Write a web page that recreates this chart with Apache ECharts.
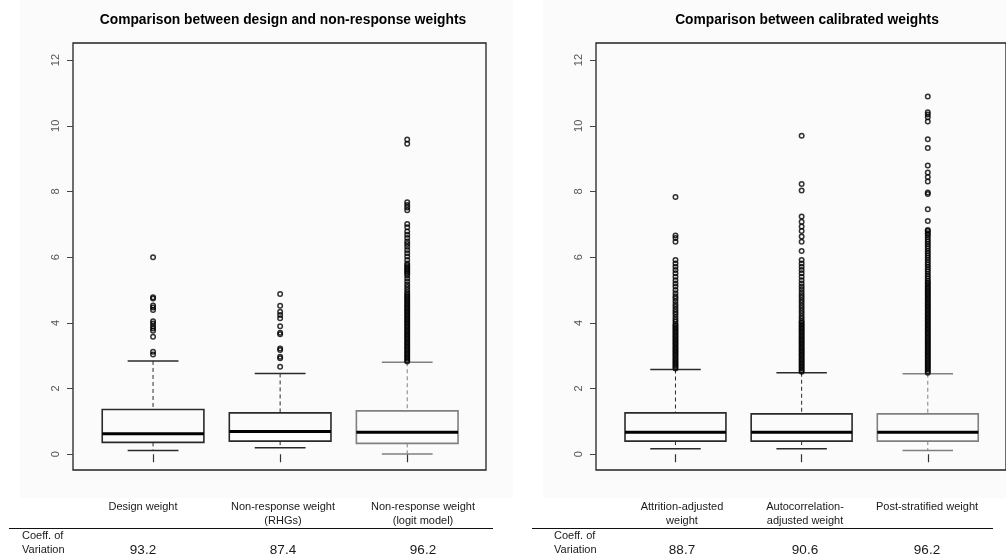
<!DOCTYPE html>
<html>
<head>
<meta charset="utf-8">
<script src="https://cdn.jsdelivr.net/npm/echarts@6/dist/echarts.min.js"></script>
<style>
  html, body { margin: 0; padding: 0; background: #fff; }
  #chart { width: 1006px; height: 558px; }
</style>
</head>
<body>
<div id="chart"></div>
<script>
// 标题
const panelTitles = ['Comparison between design and non-response weights', 'Comparison between calibrated weights'];

// 表头（每列可能两行）
const leftLabels = [['Design weight'], ['Non-response weight', '(RHGs)'], ['Non-response weight', '(logit model)']];
const rightLabels = [['Attrition-adjusted', 'weight'], ['Autocorrelation-', 'adjusted weight'], ['Post-stratified weight']];

// 变异系数
const leftCv = ['93.2', '87.4', '96.2'];
const rightCv = ['88.7', '90.6', '96.2'];

// 箱线统计
const boxPositions = [1, 2, 3];
const leftLow = [0.11, 0.20, 0.01];
const leftQ1 = [0.36, 0.40, 0.33];
const leftMed = [0.62, 0.69, 0.67];
const leftQ3 = [1.36, 1.26, 1.32];
const leftHigh = [2.84, 2.46, 2.80];

const rightLow = [0.17, 0.17, 0.11];
const rightQ1 = [0.40, 0.40, 0.40];
const rightMed = [0.67, 0.67, 0.67];
const rightQ3 = [1.26, 1.23, 1.23];
const rightHigh = [2.58, 2.48, 2.45];

// 离群点
const designOut = [3.04, 3.12, 3.58, 3.76, 3.83, 3.90, 3.98, 4.05, 4.39, 4.47, 4.53, 4.74, 4.78, 6.00];
const rhgOut = [2.66, 2.92, 2.97, 3.17, 3.22, 3.65, 3.70, 3.90, 4.14, 4.24, 4.34, 4.52, 4.88];
const logitOut = [2.82, 2.87, 2.92, 2.97, 3.02, 3.07, 3.12, 3.17, 3.22, 3.27, 3.32, 3.37, 3.42, 3.47, 3.52,
  3.57, 3.62, 3.67, 3.72, 3.77, 3.82, 3.87, 3.92, 3.97, 4.02, 4.07, 4.12, 4.17, 4.22, 4.27, 4.32, 4.37,
  4.42, 4.47, 4.52, 4.57, 4.62, 4.67, 4.72, 4.77, 4.82, 4.87, 4.93, 5.01, 5.09, 5.17, 5.26, 5.35, 5.44,
  5.50, 5.55, 5.60, 5.65, 5.70, 5.75, 5.81, 5.91, 6.02, 6.12, 6.22, 6.32, 6.40, 6.48, 6.58, 6.68, 6.78,
  6.91, 7.01, 7.43, 7.51, 7.59, 7.67, 9.45, 9.58];

const attrOut = [2.61, 2.66, 2.71, 2.76, 2.81, 2.86, 2.91, 2.96, 3.01, 3.06, 3.11, 3.16, 3.21, 3.26, 3.31,
  3.36, 3.41, 3.46, 3.51, 3.56, 3.61, 3.66, 3.71, 3.76, 3.81, 3.86, 3.91, 3.96, 4.03, 4.10, 4.18, 4.26,
  4.33, 4.41, 4.49, 4.57, 4.66, 4.74, 4.81, 4.90, 5.00, 5.11, 5.20, 5.30, 5.40, 5.51, 5.61, 5.71, 5.81,
  5.91, 6.47, 6.58, 6.66, 7.83];
const autoOut = [2.51, 2.56, 2.61, 2.66, 2.71, 2.76, 2.81, 2.86, 2.91, 2.96, 3.01, 3.06, 3.11, 3.16, 3.21,
  3.26, 3.31, 3.36, 3.41, 3.46, 3.51, 3.56, 3.61, 3.66, 3.71, 3.76, 3.81, 3.86, 3.91, 3.96, 4.01, 4.06,
  4.13, 4.21, 4.29, 4.37, 4.45, 4.53, 4.61, 4.69, 4.77, 4.85, 4.93, 5.02, 5.11, 5.20, 5.30, 5.40, 5.51,
  5.61, 5.71, 5.81, 5.91, 6.19, 6.47, 6.63, 6.80, 6.93, 7.08, 7.24, 8.03, 8.23, 9.70];
const postOut = [2.48, 2.53, 2.58, 2.63, 2.68, 2.73, 2.78, 2.83, 2.88, 2.93, 2.98, 3.03, 3.08, 3.13, 3.18,
  3.23, 3.28, 3.33, 3.38, 3.43, 3.48, 3.53, 3.58, 3.63, 3.68, 3.73, 3.78, 3.83, 3.88, 3.93, 3.98, 4.03,
  4.08, 4.13, 4.18, 4.23, 4.28, 4.33, 4.38, 4.43, 4.48, 4.53, 4.58, 4.63, 4.68, 4.73, 4.78, 4.83, 4.88,
  4.93, 4.98, 5.03, 5.08, 5.13, 5.18, 5.23, 5.28, 5.35, 5.42, 5.49, 5.56, 5.63, 5.70, 5.77, 5.84, 5.91,
  5.98, 6.05, 6.12, 6.19, 6.26, 6.33, 6.40, 6.47, 6.54, 6.61, 6.68, 6.73, 6.80, 6.83, 7.10, 7.46, 7.92,
  7.97, 8.30, 8.44, 8.58, 8.79, 9.32, 9.59, 10.13, 10.26, 10.34, 10.41, 10.89];

const yTicks = [0, 2, 4, 6, 8, 10, 12];

// 版式
const boxColors = ['#2a2a2a', '#2a2a2a', '#808080'];
const leftCols = [143, 283, 423];
const rightCols = [682, 805, 927];
const tableFont = '11px "Liberation Sans", Arial, sans-serif';
const cvFont = '13.5px "Liberation Sans", Arial, sans-serif';
const titleStyle = { fontSize: 13.8, fontWeight: 'bold', color: '#000', fontFamily: '"Liberation Sans", Arial, sans-serif' };
// 空心圆但不填白，叠在一起时成实心柱
const outlierStyle = { color: 'rgba(0,0,0,0)', borderColor: '#000', borderWidth: 1.5 };

const chart = echarts.init(document.getElementById('chart'));

function boxData(low, q1, med, q3, high) {
  return boxPositions.map((x, i) => [x, low[i], q1[i], med[i], q3[i], high[i]]);
}

function outData(lists) {
  const out = [];
  lists.forEach((list, i) => list.forEach(v => out.push([boxPositions[i], v])));
  return out;
}

// 画 R 风格箱线
function renderBox(params, api) {
  const x = api.value(0);
  const color = boxColors[params.dataIndex];
  const cx = api.coord([x, 0])[0];
  const bl = api.coord([x - 0.4, 0])[0];
  const br = api.coord([x + 0.4, 0])[0];
  const cl = api.coord([x - 0.2, 0])[0];
  const cr = api.coord([x + 0.2, 0])[0];
  const yLo = api.coord([x, api.value(1)])[1];
  const yQ1 = api.coord([x, api.value(2)])[1];
  const yMed = api.coord([x, api.value(3)])[1];
  const yQ3 = api.coord([x, api.value(4)])[1];
  const yHi = api.coord([x, api.value(5)])[1];
  const dash = { stroke: color, lineWidth: 1, lineDash: [4, 3] };
  const solid = { stroke: color, lineWidth: 1.5 };
  return {
    type: 'group',
    children: [
      { type: 'line', shape: { x1: cx, y1: yHi, x2: cx, y2: yQ3 }, style: dash },
      { type: 'line', shape: { x1: cx, y1: yQ1, x2: cx, y2: yLo }, style: dash },
      { type: 'line', shape: { x1: cl, y1: yHi, x2: cr, y2: yHi }, style: solid },
      { type: 'line', shape: { x1: cl, y1: yLo, x2: cr, y2: yLo }, style: solid },
      { type: 'rect', shape: { x: bl, y: yQ3, width: br - bl, height: yQ1 - yQ3 },
        style: { fill: 'rgba(0,0,0,0)', stroke: color, lineWidth: 1.6 } },
      { type: 'line', shape: { x1: bl, y1: yMed, x2: br, y2: yMed }, style: { stroke: '#000', lineWidth: 3 } }
    ]
  };
}

function xAxisFor(gridIndex) {
  return {
    type: 'value', gridIndex, min: 0.37, max: 3.62,
    axisLine: { show: false },
    axisTick: { show: true, customValues: boxPositions, length: 8, lineStyle: { color: '#333', width: 1.2 } },
    axisLabel: { show: false },
    splitLine: { show: false }
  };
}

function yAxisFor(gridIndex) {
  return {
    type: 'value', gridIndex, min: -0.48, max: 12.52,
    axisLine: { show: false },
    axisTick: { show: true, customValues: yTicks, length: 6, lineStyle: { color: '#444' } },
    axisLabel: {
      customValues: yTicks, rotate: 90, margin: 12, color: '#555', fontSize: 11,
      fontFamily: '"Liberation Sans", Arial, sans-serif'
    },
    splitLine: { show: false }
  };
}

// 底部表格
function tableGraphics(labels, cvs, cols, ruleX1, ruleX2, coeffX) {
  const els = [];
  labels.forEach((lines, i) => {
    lines.forEach((t, j) => {
      els.push({ type: 'text', x: cols[i], y: 507 + j * 14,
        style: { text: t, font: tableFont, fill: '#1a1a1a', textAlign: 'center', textVerticalAlign: 'middle' } });
    });
    els.push({ type: 'text', x: cols[i], y: 550,
      style: { text: cvs[i], font: cvFont, fill: '#1a1a1a', textAlign: 'center', textVerticalAlign: 'middle' } });
  });
  els.push({ type: 'line', shape: { x1: ruleX1, y1: 528.5, x2: ruleX2, y2: 528.5 },
    style: { stroke: '#111', lineWidth: 1.2 } });
  els.push({ type: 'text', x: coeffX, y: 536,
    style: { text: 'Coeff. of', font: tableFont, fill: '#1a1a1a', textAlign: 'left', textVerticalAlign: 'middle' } });
  els.push({ type: 'text', x: coeffX, y: 550,
    style: { text: 'Variation', font: tableFont, fill: '#1a1a1a', textAlign: 'left', textVerticalAlign: 'middle' } });
  return els;
}

chart.setOption({
  animation: false,
  backgroundColor: '#fff',
  title: [
    { text: panelTitles[0], left: 278, top: 8, textAlign: 'center', textStyle: titleStyle },
    { text: panelTitles[1], left: 802, top: 8, textAlign: 'center', textStyle: titleStyle }
  ],
  graphic: [
    { type: 'rect', z: -10, shape: { x: 20, y: 0, width: 493, height: 498 }, style: { fill: '#fbfbfb' } },
    { type: 'rect', z: -10, shape: { x: 543, y: 0, width: 463, height: 498 }, style: { fill: '#fbfbfb' } },
    ...tableGraphics(leftLabels, leftCv, leftCols, 9, 493, 22),
    ...tableGraphics(rightLabels, rightCv, rightCols, 532, 993, 554)
  ],
  grid: [
    { left: 73, top: 43, width: 413, height: 427, show: true, borderColor: '#222', borderWidth: 1.3, backgroundColor: 'transparent' },
    { left: 596, top: 43, width: 413, height: 427, show: true, borderColor: '#222', borderWidth: 1.3, backgroundColor: 'transparent' }
  ],
  xAxis: [xAxisFor(0), xAxisFor(1)],
  yAxis: [yAxisFor(0), yAxisFor(1)],
  series: [
    { type: 'custom', xAxisIndex: 0, yAxisIndex: 0, renderItem: renderBox,
      data: boxData(leftLow, leftQ1, leftMed, leftQ3, leftHigh) },
    { type: 'custom', xAxisIndex: 1, yAxisIndex: 1, renderItem: renderBox,
      data: boxData(rightLow, rightQ1, rightMed, rightQ3, rightHigh) },
    { type: 'scatter', xAxisIndex: 0, yAxisIndex: 0, z: 5, symbol: 'circle', symbolSize: 4.5,
      itemStyle: outlierStyle, data: outData([designOut, rhgOut, logitOut]) },
    { type: 'scatter', xAxisIndex: 1, yAxisIndex: 1, z: 5, symbol: 'circle', symbolSize: 4.5,
      itemStyle: outlierStyle, data: outData([attrOut, autoOut, postOut]) }
  ]
});
</script>
</body>
</html>
